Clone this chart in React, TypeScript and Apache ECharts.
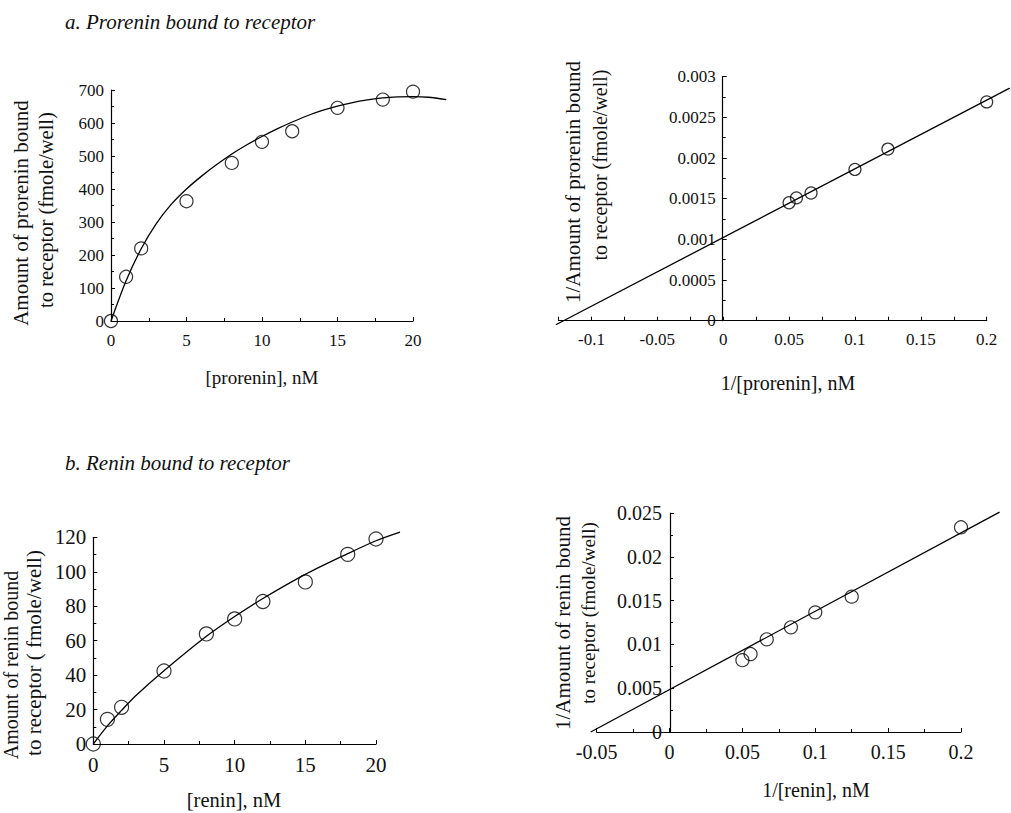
import React, { useEffect, useRef } from "react";
import * as echarts from "echarts";

// ---- a. Prorenin bound to receptor (saturation) ----
const TL_X = [0, 1, 2, 5, 8, 10, 12, 15, 18, 20];
const TL_Y = [0, 134, 220, 363, 479, 543, 575, 646, 671, 695];
const TL_FIT_X = [0, 1, 2, 3, 4, 5, 6, 7, 8, 9, 10, 11, 12, 13, 14, 15, 16, 17, 18, 19, 20, 21, 22.2];
const TL_FIT_Y = [0, 122, 219, 295, 354, 400, 439, 474, 506, 534, 559, 582, 603, 622, 638, 651, 662, 670, 676, 679, 680, 678, 671];

// ---- a. Prorenin double reciprocal ----
const TR_X = [0.05, 0.0556, 0.0667, 0.1, 0.125, 0.2];
const TR_Y = [0.00145, 0.00151, 0.00157, 0.00186, 0.00211, 0.00269];
const TR_FIT_X = [-0.127, 0.219];
const TR_FIT_Y = [-0.00005, 0.00286];

// ---- b. Renin bound to receptor (saturation) ----
const BL_X = [0, 1, 2, 5, 8, 10, 12, 15, 18, 20];
const BL_Y = [0, 14.3, 21.3, 42.4, 63.9, 72.6, 82.7, 94.1, 110.1, 119];
const BL_FIT_X = [0, 1, 2, 3, 5, 8, 10, 12, 15, 18, 20, 21.7];
const BL_FIT_Y = [0, 10.5, 19.5, 28, 42.5, 62.5, 74, 84.5, 98.5, 110.5, 118, 123];

// ---- b. Renin double reciprocal ----
const BR_X = [0.05, 0.0556, 0.0667, 0.0833, 0.1, 0.125, 0.2];
const BR_Y = [0.0082, 0.0089, 0.01058, 0.01195, 0.01366, 0.01545, 0.02337];
const BR_FIT_X = [-0.054, 0.232];
const BR_FIT_Y = [0, 0.0251];

const FONT = "Liberation Serif";
const INK = "#111";

const zip = (xs: number[], ys: number[]) => xs.map((x, i) => [x, ys[i]]);

// visible panels: grid box + axis extents
const PANELS = [
  { left: 111, top: 90, width: 302, height: 231, x: [0, 20], y: [0, 700], ext: { x: [0, 23], y: [0, 700] } },
  { left: 558.5, top: 76.7, width: 428.2, height: 244, x: [-0.125, 0.2], y: [0, 0.003], ext: { x: [-0.13, 0.22], y: [-0.0001, 0.003] } },
  { left: 93.3, top: 537.3, width: 282.7, height: 206.7, x: [0, 20], y: [0, 120], ext: { x: [0, 22], y: [0, 130] } },
  { left: 596.7, top: 513, width: 364.3, height: 219, x: [-0.05, 0.2], y: [0, 0.025], ext: { x: [-0.06, 0.24], y: [-0.001, 0.026] } },
];

function extGrid(p: any) {
  const sx = p.width / (p.x[1] - p.x[0]);
  const sy = p.height / (p.y[1] - p.y[0]);
  return {
    left: p.left + (p.ext.x[0] - p.x[0]) * sx,
    width: (p.ext.x[1] - p.ext.x[0]) * sx,
    top: p.top + (p.y[1] - p.ext.y[1]) * sy,
    height: (p.ext.y[1] - p.ext.y[0]) * sy,
  };
}

function valAxis(gridIndex: number, min: number, max: number, interval: number, fontSize: number, opts: any = {}) {
  return {
    type: "value",
    gridIndex,
    min,
    max,
    interval,
    offset: opts.offset ?? 0,
    axisLine: { show: true, onZero: false, lineStyle: { color: "#000", width: 1.2 } },
    axisTick: { show: true, inside: true, length: 4, lineStyle: { color: "#000", width: 1 } },
    minorTick: { show: opts.minor !== false, splitNumber: 2, length: 3, lineStyle: { color: "#000", width: 1 } },
    splitLine: { show: false },
    minorSplitLine: { show: false },
    axisLabel: {
      fontFamily: FONT,
      fontSize,
      color: INK,
      margin: opts.margin ?? 8,
      formatter: opts.formatter,
    },
  };
}

const hiddenAxis = (gridIndex: number, ext: number[]) => ({
  type: "value",
  gridIndex,
  min: ext[0],
  max: ext[1],
  show: false,
  splitLine: { show: false },
});

const fmt = (d: number) => (v: number) => String(Number(v.toFixed(d)));

function scatter(xi: number, xs: number[], ys: number[], size: number) {
  return {
    type: "scatter",
    xAxisIndex: xi,
    yAxisIndex: xi,
    data: zip(xs, ys),
    symbol: "circle",
    symbolSize: size,
    clip: false,
    itemStyle: { color: "rgba(0,0,0,0)", borderColor: "#000", borderWidth: 1.2 },
    z: 3,
  };
}

function fit(xi: number, xs: number[], ys: number[], smooth: boolean) {
  return {
    type: "line",
    xAxisIndex: xi,
    yAxisIndex: xi,
    data: zip(xs, ys),
    showSymbol: false,
    smooth: smooth ? 0.3 : false,
    clip: false,
    lineStyle: { color: "#000", width: 1.3 },
    z: 2,
  };
}

function txt(text: string, x: number, y: number, size: number, opts: any = {}) {
  return {
    type: "text",
    x,
    y,
    rotation: opts.rotate ? Math.PI / 2 : 0,
    style: {
      text,
      fontFamily: FONT,
      fontSize: size,
      fontStyle: opts.italic ? "italic" : "normal",
      fill: INK,
      textAlign: opts.align ?? "center",
      textVerticalAlign: "middle",
    },
  };
}

export default function App() {
  const ref = useRef<HTMLDivElement>(null);
  useEffect(() => {
    const chart = echarts.init(ref.current!, null, { renderer: "svg", width: 1011, height: 813 });
    const trLabel = (v: number) => {
      const k = v / 0.05;
      if (Math.abs(k - Math.round(k)) > 1e-6) return "";
      return String(Number(v.toFixed(3)));
    };
    const visGrids = PANELS.map((p) => ({ left: p.left, top: p.top, width: p.width, height: p.height }));
    const hidGrids = PANELS.map(extGrid);
    chart.setOption({
      animation: false,
      backgroundColor: "#fff",
      grid: [...visGrids, ...hidGrids],
      xAxis: [
        valAxis(0, 0, 20, 5, 17, { margin: 11 }),
        valAxis(1, -0.125, 0.2, 0.025, 17, { minor: false, margin: 10, formatter: trLabel }),
        valAxis(2, 0, 20, 5, 21, { margin: 10 }),
        valAxis(3, -0.05, 0.2, 0.05, 20, { margin: 10, formatter: fmt(3) }),
        ...PANELS.map((p, i) => hiddenAxis(4 + i, p.ext.x)),
      ],
      yAxis: [
        valAxis(0, 0, 700, 100, 17, { margin: 7 }),
        valAxis(1, 0, 0.003, 0.0005, 17, { margin: 7, formatter: fmt(4), offset: -164.2 }),
        valAxis(2, 0, 120, 20, 21, { margin: 7 }),
        valAxis(3, 0, 0.025, 0.005, 20, { margin: 8, formatter: fmt(3), offset: -73.3 }),
        ...PANELS.map((p, i) => hiddenAxis(4 + i, p.ext.y)),
      ],
      series: [
        fit(4, TL_FIT_X, TL_FIT_Y, true),
        scatter(0, TL_X, TL_Y, 13),
        fit(5, TR_FIT_X, TR_FIT_Y, false),
        scatter(1, TR_X, TR_Y, 12),
        fit(6, BL_FIT_X, BL_FIT_Y, true),
        scatter(2, BL_X, BL_Y, 14),
        fit(7, BR_FIT_X, BR_FIT_Y, false),
        scatter(3, BR_X, BR_Y, 13),
      ],
      graphic: [
        txt("a. Prorenin bound to receptor", 65, 22, 21, { italic: true, align: "left" }),
        txt("b. Renin bound to receptor", 65, 463, 21, { italic: true, align: "left" }),
        txt("Amount of prorenin bound", 21, 213, 21, { rotate: true }),
        txt("to receptor (fmole/well)", 46, 210, 20.5, { rotate: true }),
        txt("[prorenin], nM", 262, 377, 19),
        txt("1/Amount of prorenin bound", 573, 182, 21, { rotate: true }),
        txt("to receptor (fmole/well)", 600, 165, 20, { rotate: true }),
        txt("1/[prorenin], nM", 788, 383, 20),
        txt("Amount of renin bound", 11, 665, 20, { rotate: true }),
        txt("to receptor ( fmole/well)", 34, 653, 21, { rotate: true }),
        txt("[renin], nM", 234, 800, 20.5),
        txt("1/Amount of renin bound", 563, 623, 21, { rotate: true }),
        txt("to receptor (fmole/well)", 588, 613, 19, { rotate: true }),
        txt("1/[renin], nM", 816, 790, 20),
      ],
    });
    return () => chart.dispose();
  }, []);
  return <div ref={ref} style={{ position: "absolute", left: 0, top: 0, width: 1011, height: 813 }} />;
}
